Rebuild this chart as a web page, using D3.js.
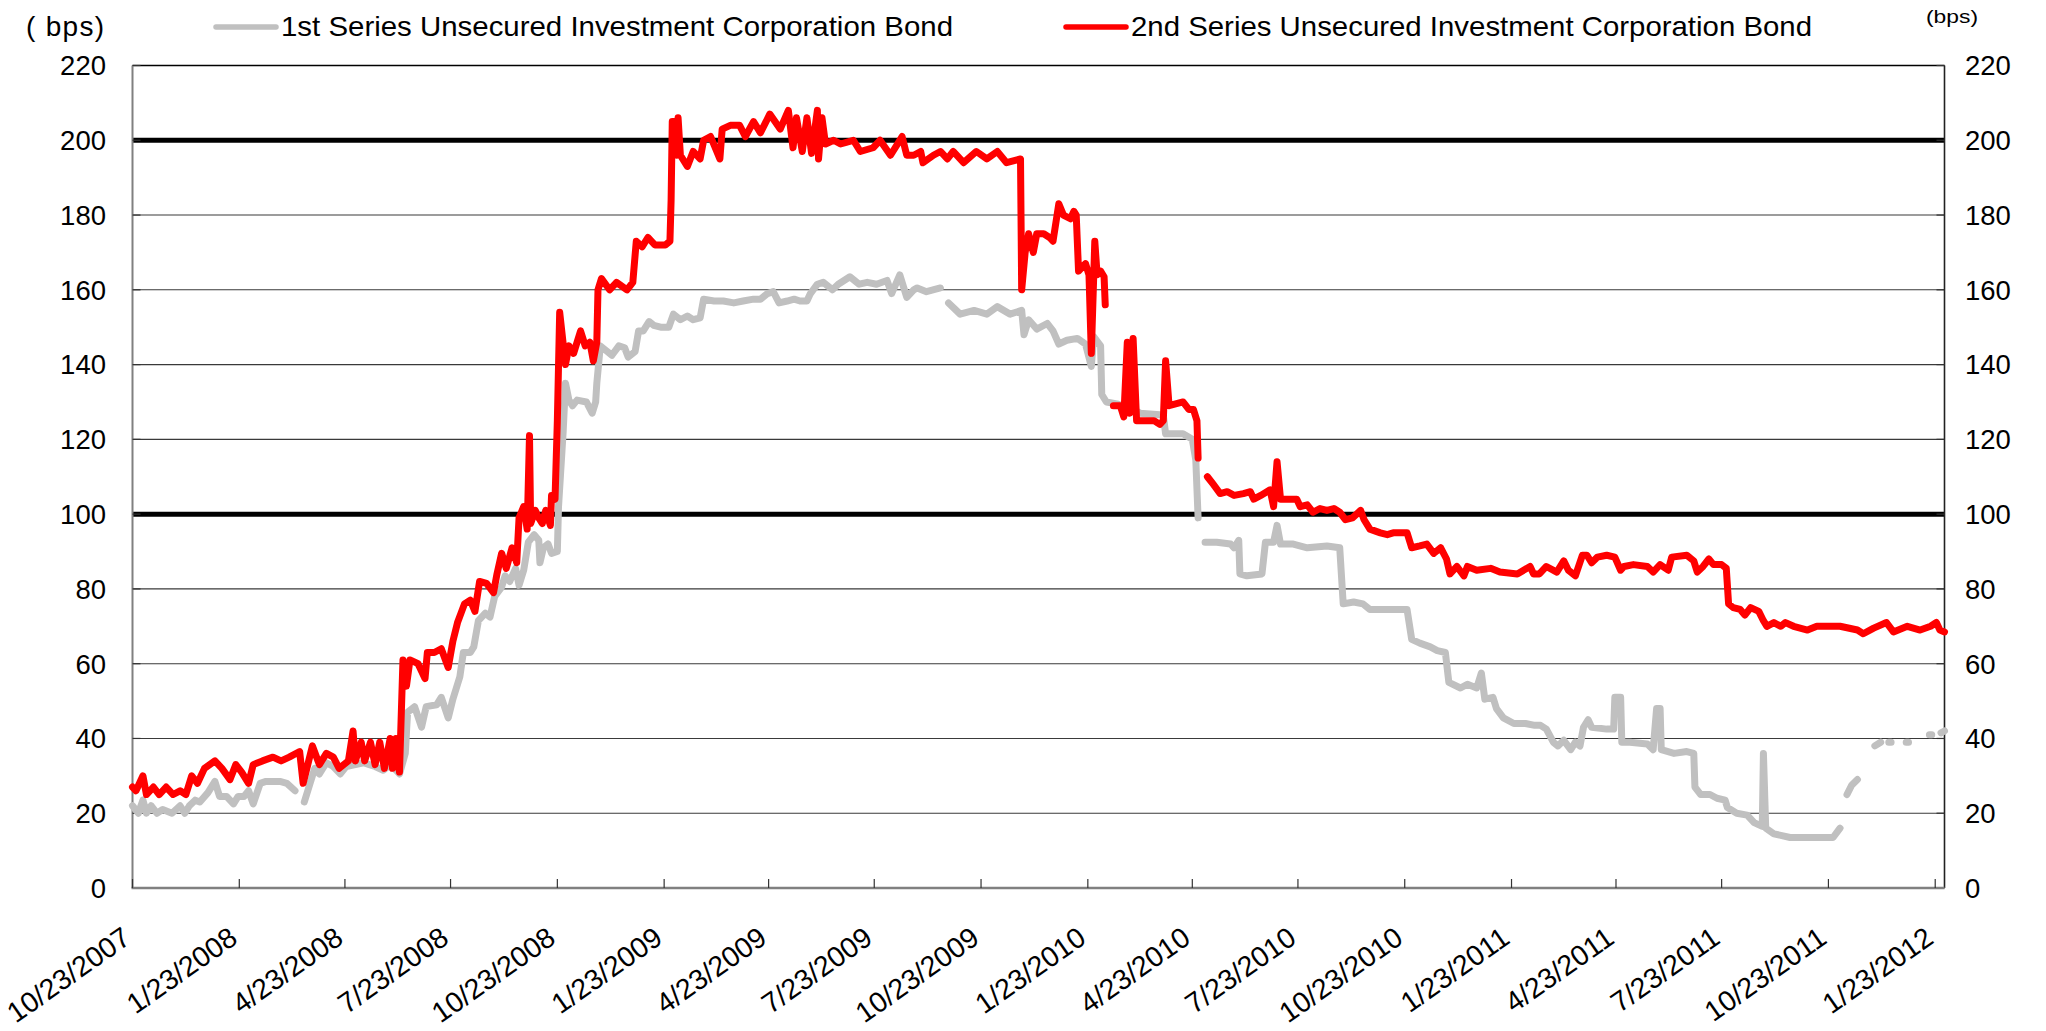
<!DOCTYPE html>
<html>
<head>
<meta charset="utf-8">
<script src="https://cdn.jsdelivr.net/npm/d3@7"></script>
<style>
  html, body { margin: 0; padding: 0; background: #fff; }
  svg { display: block; }
  text { font-family: "Liberation Sans", Arial, sans-serif; fill: #000; }
</style>
</head>
<body>
<svg id="chart" width="2046" height="1031"></svg>
<script>
// ---------------- data ----------------
const seriesNames = [
  "1st Series Unsecured Investment Corporation Bond",
  "2nd Series Unsecured Investment Corporation Bond"
];
const unitLabel = "( bps)";
const unitLabelRight = "(bps)";

// quarterly axis labels
const tickDates = [
  "2007-10-23","2008-01-23","2008-04-23","2008-07-23","2008-10-23","2009-01-23",
  "2009-04-23","2009-07-23","2009-10-23","2010-01-23","2010-04-23","2010-07-23",
  "2010-10-23","2011-01-23","2011-04-23","2011-07-23","2011-10-23","2012-01-23"
];
const yTicks = [0, 20, 40, 60, 80, 100, 120, 140, 160, 180, 200, 220];
const boldLevels = [100, 200];

// 1st series spread (bps); null = no quote
const dates1st = [
  "2007-10-23","2007-10-28","2007-11-01","2007-11-04","2007-11-08","2007-11-13","2007-11-18","2007-11-26","2007-12-03","2007-12-07",
  "2007-12-11","2007-12-16","2007-12-20","2007-12-27","2008-01-02","2008-01-06","2008-01-12","2008-01-18","2008-01-22","2008-01-27",
  "2008-01-31","2008-02-04","2008-02-10","2008-02-15","2008-02-27","2008-03-04","2008-03-11","2008-03-15","2008-03-19","2008-03-24",
  "2008-03-28","2008-04-01","2008-04-07","2008-04-13","2008-04-19","2008-04-24","2008-05-02","2008-05-09","2008-05-14","2008-05-19",
  "2008-05-26","2008-06-01","2008-06-06","2008-06-09","2008-06-14","2008-06-16","2008-06-22","2008-06-28","2008-07-02","2008-07-11",
  "2008-07-15","2008-07-21","2008-07-25","2008-07-31","2008-08-03","2008-08-09","2008-08-12","2008-08-16","2008-08-22","2008-08-26",
  "2008-08-30","2008-09-05","2008-09-08","2008-09-12","2008-09-17","2008-09-20","2008-09-24","2008-09-28","2008-10-03","2008-10-07",
  "2008-10-08","2008-10-11","2008-10-15","2008-10-18","2008-10-23","2008-10-24","2008-10-28","2008-10-30","2008-11-02","2008-11-05",
  "2008-11-09","2008-11-17","2008-11-22","2008-11-25","2008-11-26","2008-11-29","2008-12-03","2008-12-09","2008-12-15","2008-12-20",
  "2008-12-23","2008-12-29","2009-01-01","2009-01-05","2009-01-10","2009-01-14","2009-01-20","2009-01-27","2009-01-31","2009-02-06",
  "2009-02-12","2009-02-17","2009-02-23","2009-02-26","2009-03-07","2009-03-15","2009-03-24","2009-04-01","2009-04-10","2009-04-16",
  "2009-04-22","2009-04-27","2009-05-02","2009-05-09","2009-05-15","2009-05-20","2009-05-26","2009-05-29","2009-06-04","2009-06-09",
  "2009-06-17","2009-06-22","2009-07-02","2009-07-10","2009-07-17","2009-07-25","2009-08-03","2009-08-07","2009-08-14","2009-08-20",
  "2009-08-26","2009-08-29","2009-09-06","2009-09-18","2009-09-21","2009-09-25","2009-10-05","2009-10-17","2009-10-28","2009-11-06",
  "2009-11-17","2009-11-27","2009-11-29","2009-12-03","2009-12-10","2009-12-19","2009-12-24","2009-12-29","2010-01-05","2010-01-14",
  "2010-01-21","2010-01-26","2010-01-28","2010-02-03","2010-02-04","2010-02-08","2010-02-17","2010-02-26","2010-03-03","2010-03-09",
  "2010-03-29","2010-03-31","2010-04-15","2010-04-23","2010-04-26","2010-04-28","2010-05-01","2010-05-04","2010-05-14","2010-05-26",
  "2010-05-29","2010-06-02","2010-06-03","2010-06-09","2010-06-22","2010-06-25","2010-07-02","2010-07-05","2010-07-08","2010-07-19",
  "2010-07-31","2010-08-17","2010-08-28","2010-08-31","2010-09-09","2010-09-17","2010-09-23","2010-10-08","2010-10-25","2010-10-29",
  "2010-11-05","2010-11-14","2010-11-20","2010-11-27","2010-11-30","2010-12-10","2010-12-16","2010-12-24","2010-12-28","2010-12-31",
  "2011-01-07","2011-01-10","2011-01-16","2011-01-25","2011-02-04","2011-02-12","2011-02-17","2011-02-22","2011-02-28","2011-03-04",
  "2011-03-09","2011-03-15","2011-03-19","2011-03-23","2011-03-26","2011-03-30","2011-04-02","2011-04-15","2011-04-21","2011-04-22",
  "2011-04-27","2011-04-28","2011-05-05","2011-05-20","2011-05-25","2011-05-28","2011-05-31","2011-06-01","2011-06-12","2011-06-23",
  "2011-06-29","2011-06-30","2011-07-05","2011-07-13","2011-07-19","2011-07-26","2011-07-28","2011-08-05","2011-08-14","2011-08-20",
  "2011-08-27","2011-08-28","2011-08-30","2011-09-06","2011-09-20","2011-10-05","2011-10-16","2011-10-27","2011-11-02","2011-11-05",
  "2011-11-08","2011-11-12","2011-11-17","2011-11-25","2011-12-02","2011-12-07","2011-12-10","2011-12-14","2011-12-16","2011-12-22",
  "2011-12-29","2011-12-31","2012-01-10","2012-01-18","2012-01-20","2012-01-24","2012-01-28","2012-01-31"
];
const spread1st = [
  22,20,23.5,20,22,20,21,20,22,20,
  22,23.5,23,25.5,28.5,24.5,24.5,22.5,24.5,24.5,
  26,22.5,28,28.5,28.5,28,26,null,23,28,
  32,30.5,33.5,32.5,30.5,32.5,33,33.5,33,32.5,
  31.5,33,31.5,30.5,36,47,48.5,43,48.5,49,
  51,45.5,50.5,56.5,63,63,64.5,71.5,73.5,72.5,
  78,80.5,83.5,82,85.5,81,85,92.5,94.5,93,
  87,91,92,89.5,90,102,122,135,130.5,129,
  130.5,130,127,130,135,145,144,142.5,145,144.5,
  142,143.5,149,149,151.5,150.5,150,150,153.5,152,
  153,152,152.5,157.5,157,157,156.5,157,157.5,157.5,
  159,159.5,156.5,157,157.5,157,157,159,161.5,162,
  160,161.5,163.5,161.5,162,161.5,162.5,159,164,158,
  160,160.5,159.5,160.5,null,156.5,153.5,154.5,153.5,155.5,
  153.5,154.5,148,152,149.5,151,149,145.5,146.5,147,
  145.5,139.5,147.5,145,132,130,129.5,128.5,128,127,
  126.5,121.5,121.5,120,114.5,99,null,92.5,92.5,92,
  91,93,84,83.5,84,92.5,92.5,97,92,92,
  91,91.5,91,76,76.5,76,74.5,74.5,74.5,66.5,
  65.5,64.5,63.5,63,55,53.5,54.5,53.5,57.5,50.5,
  51,48,45.5,44,44,43.5,43.5,42.5,39,38,
  39.5,37,39,38,43,45,43,42.5,42.5,51,
  51,39,39,38.5,37,48,48,37,36,36.5,
  36,27,25,25,24,23.5,21.5,20,19.5,17.5,
  16.5,36,16,14.5,13.5,13.5,13.5,13.5,16,null,
  25,27.5,29,null,38,39,null,39,39,null,
  39,39,null,41,41,null,41.5,42
];

// 2nd series spread (bps); null = no quote
const dates2nd = [
  "2007-10-23","2007-10-26","2007-11-01","2007-11-04","2007-11-10","2007-11-15","2007-11-21","2007-11-27","2007-12-03","2007-12-08",
  "2007-12-13","2007-12-18","2007-12-24","2008-01-02","2008-01-08","2008-01-15","2008-01-20","2008-01-25","2008-01-31","2008-02-04",
  "2008-02-12","2008-02-21","2008-02-28","2008-03-06","2008-03-15","2008-03-18","2008-03-22","2008-03-26","2008-04-01","2008-04-07",
  "2008-04-13","2008-04-18","2008-04-26","2008-04-30","2008-05-02","2008-05-07","2008-05-10","2008-05-15","2008-05-19","2008-05-23",
  "2008-05-27","2008-06-01","2008-06-03","2008-06-06","2008-06-09","2008-06-12","2008-06-15","2008-06-18","2008-06-25","2008-07-01",
  "2008-07-03","2008-07-09","2008-07-15","2008-07-21","2008-07-25","2008-07-29","2008-08-04","2008-08-09","2008-08-13","2008-08-17",
  "2008-08-23","2008-08-29","2008-09-01","2008-09-05","2008-09-09","2008-09-14","2008-09-18","2008-09-20","2008-09-24","2008-09-27",
  "2008-09-29","2008-09-30","2008-10-04","2008-10-07","2008-10-10","2008-10-13","2008-10-17","2008-10-18","2008-10-21","2008-10-23",
  "2008-10-25","2008-10-30","2008-11-02","2008-11-06","2008-11-12","2008-11-16","2008-11-20","2008-11-23","2008-11-26","2008-11-27",
  "2008-11-30","2008-12-07","2008-12-13","2008-12-22","2008-12-27","2008-12-30","2009-01-04","2009-01-09","2009-01-15","2009-01-24",
  "2009-01-28","2009-01-29","2009-01-30","2009-02-01","2009-02-03","2009-02-04","2009-02-06","2009-02-12","2009-02-17","2009-02-23",
  "2009-02-26","2009-03-04","2009-03-08","2009-03-12","2009-03-14","2009-03-21","2009-03-29","2009-04-03","2009-04-10","2009-04-16",
  "2009-04-24","2009-05-03","2009-05-10","2009-05-14","2009-05-17","2009-05-22","2009-05-26","2009-05-30","2009-06-04","2009-06-05",
  "2009-06-08","2009-06-11","2009-06-18","2009-06-24","2009-07-05","2009-07-11","2009-07-22","2009-07-28","2009-08-06","2009-08-16",
  "2009-08-20","2009-08-26","2009-09-01","2009-09-03","2009-09-12","2009-09-18","2009-09-24","2009-09-29","2009-10-08","2009-10-19",
  "2009-10-28","2009-11-06","2009-11-14","2009-11-26","2009-11-27","2009-11-30","2009-12-03","2009-12-07","2009-12-10","2009-12-16",
  "2009-12-21","2009-12-24","2009-12-29","2010-01-02","2010-01-08","2010-01-11","2010-01-13","2010-01-15","2010-01-21","2010-01-24",
  "2010-01-26","2010-01-29","2010-01-31","2010-02-03","2010-02-06","2010-02-07","2010-02-10","2010-02-14","2010-02-20","2010-02-23",
  "2010-02-26","2010-02-28","2010-03-03","2010-03-06","2010-03-12","2010-03-21","2010-03-26","2010-03-29","2010-03-31","2010-04-03",
  "2010-04-15","2010-04-20","2010-04-24","2010-04-27","2010-04-28","2010-05-02","2010-05-06","2010-05-11","2010-05-17","2010-05-23",
  "2010-05-29","2010-06-06","2010-06-12","2010-06-15","2010-06-21","2010-06-29","2010-07-02","2010-07-05","2010-07-08","2010-07-14",
  "2010-07-22","2010-07-25","2010-07-31","2010-08-05","2010-08-11","2010-08-17","2010-08-23","2010-08-28","2010-09-02","2010-09-08",
  "2010-09-15","2010-09-18","2010-09-23","2010-10-02","2010-10-08","2010-10-13","2010-10-25","2010-10-29","2010-11-05","2010-11-11",
  "2010-11-17","2010-11-23","2010-11-28","2010-12-01","2010-12-07","2010-12-13","2010-12-16","2010-12-24","2011-01-05","2011-01-13",
  "2011-01-28","2011-02-08","2011-02-11","2011-02-16","2011-02-22","2011-03-03","2011-03-09","2011-03-13","2011-03-19","2011-03-25",
  "2011-03-29","2011-04-02","2011-04-07","2011-04-15","2011-04-22","2011-04-27","2011-04-30","2011-05-08","2011-05-20","2011-05-25",
  "2011-05-31","2011-06-07","2011-06-10","2011-06-23","2011-06-29","2011-07-02","2011-07-07","2011-07-12","2011-07-16","2011-07-23",
  "2011-07-27","2011-07-29","2011-08-02","2011-08-08","2011-08-12","2011-08-17","2011-08-24","2011-08-28","2011-08-31","2011-09-06",
  "2011-09-12","2011-09-16","2011-09-23","2011-10-05","2011-10-13","2011-11-02","2011-11-17","2011-11-22","2011-12-01","2011-12-12",
  "2011-12-18","2011-12-30","2012-01-10","2012-01-19","2012-01-24","2012-01-27","2012-01-31"
];
const spread2nd = [
  27,26,30,25,27,25,27,25,26,25,
  30,28,32,34,32,29,33,31,28,33,
  34,35,34,35,36.5,28,33,38,33,36,
  35,32,34,42,34,39,34,39,33,39,
  32,40,32,40,31,61,54,61,60,56,
  63,63,64,59,66,71,76,77,74,82,
  81.5,79,84,89.5,85.5,91,87,99,102,96,
  121,97.5,101,99,97.5,101,97,105,104,125,
  154,140,145,143,149,145,146,141,146,160,
  163,160,162,160,162,173,171.5,174,172,172,
  173,184,205,205,196,206,196,193,197,195,
  200,201,198,195,203,204,204,201,205,202,
  207,203,208,198,206,197,206,196.5,208,195,
  206,199,200,199,200,197,198,200,196,201,
  196,196,197,194,196,197,195,197,194,197,
  195,197,194,195,160,170,175,170,175,175,
  174,173,183,180,179,181,180,165,167,164,
  143,173,164,165,163.5,156,null,129,129,126,
  146,127,147,125,125,125,124,125,141,129,
  130,128,128,125,115,null,110,108,105.5,106,
  105,105.5,106,104,105,106.5,102,114,104,104,
  104,102,102.5,100.5,101.5,101,101.5,100.5,98.5,99,
  101,98.5,96,95,94.5,95,95,91,91.5,92,
  89.5,91,88,84,86,83.5,86,85,85.5,84.5,
  84,86,84,84,86,84.5,87.5,85,83.5,89,
  89,87,88.5,89,88.5,85,86,86.5,86,84.5,
  86.5,85,88.5,89,87.5,84.5,86,88,86.5,86.5,
  85.5,76,75,74.5,73,75,74,71.5,70,71,
  70,71,70,69,70,70,69,68,69.5,71,
  68.5,70,69,70,71,69,68.5
];

// ---------------- drawing ----------------
const parse = d3.utcParse("%Y-%m-%d");
const fmt = d3.utcFormat("%-m/%-d/%Y");

const plot = { left: 132.5, right: 1944.5, top: 65.5, bottom: 888 };
const colors = ["#c0c0c0", "#ff0000"];

const x = d3.scaleUtc()
  .domain([parse("2007-10-23"), parse("2012-01-31")])
  .range([plot.left, plot.right]);
const y = d3.scaleLinear().domain([0, 220]).range([plot.bottom, plot.top]);

const svg = d3.select("#chart");
svg.append("rect").attr("width", 2046).attr("height", 1031).attr("fill", "#fff");

// horizontal gridlines (100 and 200 drawn heavy)
svg.append("g").selectAll("line")
  .data(yTicks.filter(v => v > 0 && v < 220))
  .join("line")
  .attr("x1", plot.left).attr("x2", plot.right)
  .attr("y1", d => y(d)).attr("y2", d => y(d))
  .attr("stroke", d => boldLevels.includes(d) ? "#000" : "#3a3a3a")
  .attr("stroke-width", d => boldLevels.includes(d) ? 5 : 1.1);

// frame
svg.append("line").attr("x1", plot.left).attr("x2", plot.right)
  .attr("y1", plot.top).attr("y2", plot.top).attr("stroke", "#000").attr("stroke-width", 1.5);
svg.append("line").attr("x1", plot.right).attr("x2", plot.right)
  .attr("y1", plot.top).attr("y2", plot.bottom).attr("stroke", "#222").attr("stroke-width", 1.6);
svg.append("line").attr("x1", plot.left).attr("x2", plot.left)
  .attr("y1", plot.top).attr("y2", plot.bottom).attr("stroke", "#808080").attr("stroke-width", 2);

// inward y ticks on both sides
const yTickG = svg.append("g").attr("stroke", "#333").attr("stroke-width", 1.2);
yTicks.forEach(v => {
  yTickG.append("line").attr("x1", plot.left).attr("x2", plot.left + 8).attr("y1", y(v)).attr("y2", y(v));
  yTickG.append("line").attr("x1", plot.right - 8).attr("x2", plot.right).attr("y1", y(v)).attr("y2", y(v));
});

// y labels, left and right
const yLab = svg.append("g").attr("font-size", 27.5);
yLab.selectAll("text.l").data(yTicks).join("text").attr("class", "l")
  .attr("x", 106).attr("y", d => y(d)).attr("dy", "0.36em")
  .attr("text-anchor", "end").text(d => d);
yLab.selectAll("text.r").data(yTicks).join("text").attr("class", "r")
  .attr("x", 1965).attr("y", d => y(d)).attr("dy", "0.36em")
  .attr("text-anchor", "start").text(d => d);

// series lines
const line = d3.line()
  .defined(d => d.v != null)
  .x(d => x(d.t))
  .y(d => y(d.v));

const series = [
  dates1st.map((d, i) => ({ t: parse(d), v: spread1st[i] })),
  dates2nd.map((d, i) => ({ t: parse(d), v: spread2nd[i] }))
];
series.forEach((s, i) => {
  svg.append("path")
    .datum(s)
    .attr("d", line)
    .attr("fill", "none")
    .attr("stroke", colors[i])
    .attr("stroke-width", 7)
    .attr("stroke-linejoin", "round")
    .attr("stroke-linecap", "round");
});

// bottom axis with inward ticks
svg.append("line").attr("x1", plot.left - 1).attr("x2", plot.right)
  .attr("y1", plot.bottom).attr("y2", plot.bottom).attr("stroke", "#808080").attr("stroke-width", 2.5);
const ticks = tickDates.map(parse);
svg.append("g").selectAll("line").data(ticks).join("line")
  .attr("x1", d => x(d)).attr("x2", d => x(d))
  .attr("y1", plot.bottom).attr("y2", plot.bottom - 9)
  .attr("stroke", "#333").attr("stroke-width", 1.2);
svg.append("g").attr("font-size", 28.5).selectAll("text").data(ticks).join("text")
  .attr("transform", d => `translate(${x(d)},${plot.bottom + 54}) rotate(-35)`)
  .attr("text-anchor", "end")
  .text(d => fmt(d));

// units
svg.append("text").attr("x", 26).attr("y", 36).attr("font-size", 28)
  .attr("textLength", 78).text(unitLabel);
svg.append("text").attr("x", 1926).attr("y", 23).attr("font-size", 19)
  .attr("textLength", 52).attr("lengthAdjust", "spacingAndGlyphs").text(unitLabelRight);

// legend
const legend = [
  { name: seriesNames[0], color: colors[0], x0: 216, tx: 281, len: 672 },
  { name: seriesNames[1], color: colors[1], x0: 1066, tx: 1131, len: 681 }
];
legend.forEach(l => {
  svg.append("line").attr("x1", l.x0).attr("x2", l.x0 + 60)
    .attr("y1", 27).attr("y2", 27)
    .attr("stroke", l.color).attr("stroke-width", 5.5).attr("stroke-linecap", "round");
  svg.append("text").attr("x", l.tx).attr("y", 36).attr("font-size", 28)
    .attr("textLength", l.len).attr("lengthAdjust", "spacingAndGlyphs").text(l.name);
});
</script>
</body>
</html>
